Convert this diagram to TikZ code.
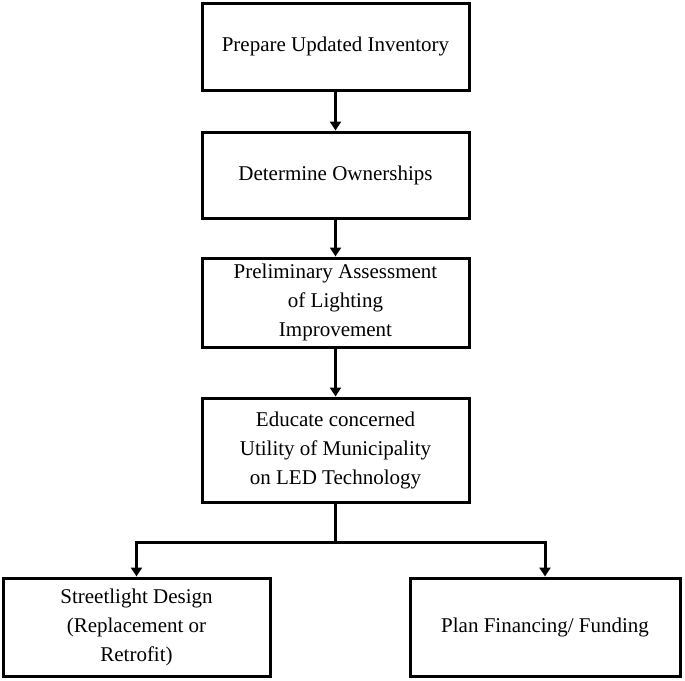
\documentclass[tikz,border=0pt]{standalone}
\usepackage{fontspec}
\setmainfont{Liberation Serif}
\usetikzlibrary{arrows.meta}
\begin{document}
\begin{tikzpicture}[x=1pt,y=-1pt,
  box/.style={draw,line width=3pt,align=center,font=\fontsize{21}{29}\selectfont,inner sep=0pt},
  arr/.style={line width=3pt,-{Triangle[length=9pt,width=11pt]}}]
\useasboundingbox (0,0) rectangle (685,680);
\node[box,minimum width=267pt,minimum height=87pt] (a) at (335.5,46.5) {Prepare Updated Inventory};
\node[box,minimum width=267pt,minimum height=86pt] (b) at (335.5,175) {Determine Ownerships};
\node[box,minimum width=267pt,minimum height=89pt] (c) at (335.5,302.5) {Preliminary Assessment\\of Lighting\\Improvement};
\node[box,minimum width=267pt,minimum height=104pt] (d) at (335.5,450) {Educate concerned\\Utility of Municipality\\on LED Technology};
\node[box,minimum width=267pt,minimum height=98pt] (e) at (136.5,627) {Streetlight Design\\(Replacement or\\Retrofit)};
\node[box,minimum width=270pt,minimum height=98pt] (f) at (545,627) {Plan Financing/ Funding};
\draw[arr] (a) -- (b);
\draw[arr] (b) -- (c);
\draw[arr] (c) -- (d);
\coordinate (j) at (335.5,542);
\draw[line width=3pt] (d.south) -- (j);
\draw[arr] (j) -| (e.north);
\draw[arr] (j) -| (f.north);
\end{tikzpicture}
\end{document}
